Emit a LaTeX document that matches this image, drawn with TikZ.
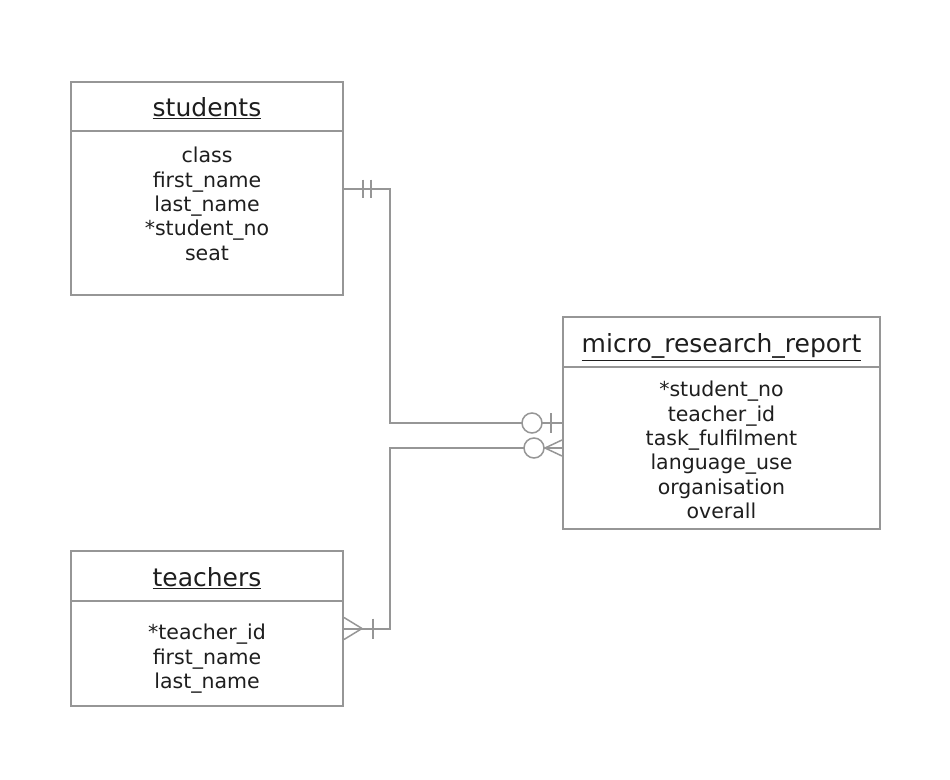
\documentclass[tikz,border=0pt]{standalone}
\usepackage{fontspec}
\setmainfont{DejaVu Sans}
\definecolor{linegray}{RGB}{150,150,150}
\definecolor{textblack}{RGB}{30,30,30}
\begin{document}
\begin{tikzpicture}[
    x=1pt, y=-1pt,
    entity/.style={rectangle, draw=linegray, line width=2pt, inner sep=0pt},
    title/.style={anchor=base, text=textblack, font=\fontsize{25}{30}\selectfont},
    attrs/.style={anchor=north, inner sep=0pt, align=center, text=textblack,
        font=\fontsize{20.5}{24.4}\selectfont},
    divider/.style={draw=linegray, line width=2pt},
    relation/.style={draw=linegray, line width=2pt},
    crowmark/.style={draw=linegray, line width=1.5pt}
]
\useasboundingbox (0,0) rectangle (950,779);

% entities
\node (Students) [entity, minimum width=272pt, minimum height=213pt] at (207,188.5) {};
\node (StudentsTitle) [title] at (207,116.5) {\underline{students}};
\draw[divider] ([yshift=-50pt]Students.north west) -- ([yshift=-50pt]Students.north east);
\node (StudentsAttrs) [attrs] at (207,147) {class\\first\_name\\last\_name\\*student\_no\\seat};

\node (MicroReport) [entity, minimum width=317pt, minimum height=212pt] at (721.5,423) {};
\node (MicroReportTitle) [title] at (721.5,352.5) {\underline{micro\_research\_report}};
\draw[divider] ([yshift=-51pt]MicroReport.north west) -- ([yshift=-51pt]MicroReport.north east);
\node (MicroReportAttrs) [attrs] at (721.5,381) {*student\_no\\teacher\_id\\task\_fulfilment\\language\_use\\organisation\\overall};

\node (Teachers) [entity, minimum width=272pt, minimum height=155pt] at (207,628.5) {};
\node (TeachersTitle) [title] at (207,586.5) {\underline{teachers}};
\draw[divider] ([yshift=-51pt]Teachers.north west) -- ([yshift=-51pt]Teachers.north east);
\node (TeachersAttrs) [attrs] at (207,624) {*teacher\_id\\first\_name\\last\_name};

% relations
\draw[relation] (Students.east) -- ++(46,0) |- (MicroReport.west);
\draw[relation] (Teachers.east) -- ++(46,0) |- ([yshift=-25pt]MicroReport.west);

% students end: exactly one
\draw[crowmark] ([xshift=19pt]Students.east) ++(0,-9) -- ++(0,18);
\draw[crowmark] ([xshift=27pt]Students.east) ++(0,-9) -- ++(0,18);

% micro_research_report end: zero or one
\draw[crowmark, fill=white] ([xshift=-30pt]MicroReport.west) circle (10pt);
\draw[crowmark] ([xshift=-11pt]MicroReport.west) ++(0,-10) -- ++(0,20);

% micro_research_report end: zero or many
\coordinate (FootTip) at ([xshift=-17pt, yshift=-25pt]MicroReport.west);
\draw[crowmark] (FootTip) -- ++(17,-8) (FootTip) -- ++(17,0) (FootTip) -- ++(17,8);
\draw[crowmark, fill=white] ([xshift=-28pt, yshift=-25pt]MicroReport.west) circle (10pt);

% teachers end: one or many
\coordinate (TeacherFoot) at ([xshift=18pt]Teachers.east);
\draw[crowmark] (TeacherFoot) -- ++(-18,-11) (TeacherFoot) -- ++(-18,11);
\draw[crowmark] ([xshift=29pt]Teachers.east) ++(0,-10) -- ++(0,20);

\end{tikzpicture}
\end{document}
